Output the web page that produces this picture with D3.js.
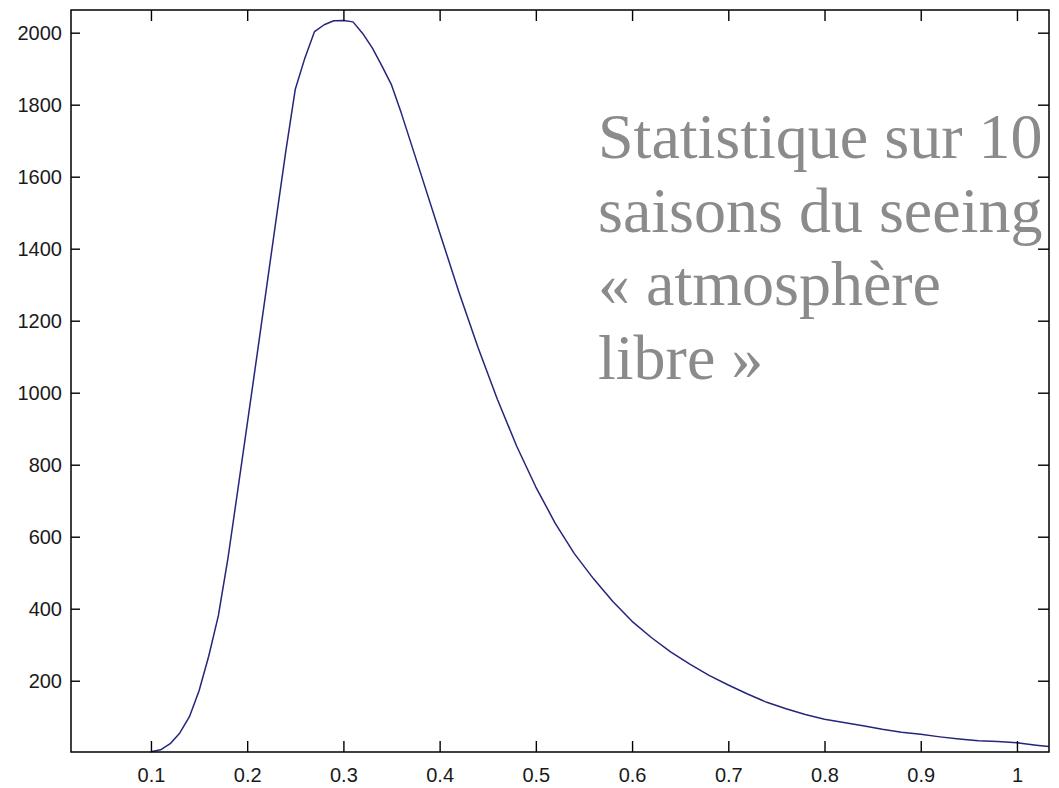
<!DOCTYPE html>
<html>
<head>
<meta charset="utf-8">
<script src="https://cdn.jsdelivr.net/npm/d3@7/dist/d3.min.js"></script>
<style>
  html, body { margin: 0; padding: 0; background: #fff; }
  svg { display: block; }
</style>
</head>
<body>
<svg id="chart" width="1059" height="788"></svg>
<script>
// Seeing (arcsec) and number of occurrences
const seeing = [
  0.10, 0.11, 0.12, 0.13, 0.14, 0.15, 0.16, 0.17, 0.18, 0.19,
  0.20, 0.21, 0.22, 0.23, 0.24, 0.25, 0.26, 0.27, 0.28, 0.29,
  0.30, 0.31, 0.32, 0.33, 0.34, 0.35, 0.36, 0.38, 0.40, 0.42,
  0.44, 0.46, 0.48, 0.50, 0.52, 0.54, 0.56, 0.58, 0.60, 0.62,
  0.64, 0.66, 0.68, 0.70, 0.72, 0.74, 0.76, 0.78, 0.80, 0.82,
  0.84, 0.86, 0.88, 0.90, 0.92, 0.94, 0.96, 0.98, 1.00, 1.02,
  1.033
];
const counts = [
  3, 8, 25, 55, 100, 172, 268, 380, 540, 725,
  912, 1100, 1290, 1480, 1668, 1843, 1930, 2003, 2022, 2033,
  2034, 2030, 1998, 1958, 1908, 1855, 1778, 1612, 1445, 1280,
  1125, 982, 852, 738, 638, 553, 483, 420, 365, 320,
  280, 246, 215, 188, 163, 140, 122, 106, 93, 84,
  75, 65, 57, 51, 44, 38, 33, 31, 28, 21,
  17
];
const xTicks = [0.1, 0.2, 0.3, 0.4, 0.5, 0.6, 0.7, 0.8, 0.9, 1];
const yTicks = [200, 400, 600, 800, 1000, 1200, 1400, 1600, 1800, 2000];
const xDomain = [0.0169, 1.0333];
const yDomain = [2, 2063];
const noteLines = ["Statistique sur 10", "saisons du seeing", "« atmosphère", "libre »"];

const svg = d3.select("#chart");
const plot = { left: 71, right: 1049, top: 10, bottom: 752 };

const x = d3.scaleLinear().domain(xDomain).range([plot.left, plot.right]);
const y = d3.scaleLinear().domain(yDomain).range([plot.bottom, plot.top]);

svg.append("rect").attr("width", 1059).attr("height", 788).attr("fill", "#fff");

// Distribution curve
svg.append("path")
  .datum(seeing.map((s, i) => [s, counts[i]]))
  .attr("fill", "none")
  .attr("stroke", "#25257a")
  .attr("stroke-width", 1.5)
  .attr("stroke-linejoin", "round")
  .attr("d", d3.line().x(d => x(d[0])).y(d => y(d[1])));

// Axes with inward ticks on all four sides
const fmtX = d => (d === 1 ? "1" : d3.format(".1f")(d));
const styleAxis = g => {
  g.select(".domain").remove();
  g.selectAll(".tick line").attr("stroke", "#000").attr("stroke-width", 1.4);
  g.selectAll(".tick text")
    .attr("fill", "#1a1a1a")
    .style("font-family", "'Liberation Sans', Arial, sans-serif")
    .style("font-size", "20px");
};

svg.append("g").attr("transform", `translate(0,${plot.bottom})`)
  .call(d3.axisBottom(x).tickValues(xTicks).tickFormat(fmtX).tickSize(-11).tickPadding(16))
  .call(styleAxis);
svg.append("g").attr("transform", `translate(0,${plot.top})`)
  .call(d3.axisTop(x).tickValues(xTicks).tickFormat("").tickSize(-11))
  .call(styleAxis);
svg.append("g").attr("transform", `translate(${plot.left},0)`)
  .call(d3.axisLeft(y).tickValues(yTicks).tickFormat(d3.format("d")).tickSize(-9).tickPadding(9))
  .call(styleAxis);
svg.append("g").attr("transform", `translate(${plot.right},0)`)
  .call(d3.axisRight(y).tickValues(yTicks).tickFormat("").tickSize(-11))
  .call(styleAxis);

// Axes box
svg.append("rect")
  .attr("x", plot.left).attr("y", plot.top)
  .attr("width", plot.right - plot.left).attr("height", plot.bottom - plot.top)
  .attr("fill", "none").attr("stroke", "#000").attr("stroke-width", 1.5);

// Annotation text
const note = svg.append("text")
  .attr("x", 598).attr("y", 158)
  .attr("fill", "#8b8b8b")
  .style("font-family", "'Liberation Serif', 'Times New Roman', serif")
  .style("font-size", "64px");
note.selectAll("tspan").data(noteLines).join("tspan")
  .attr("x", 598)
  .attr("y", (d, i) => 158 + i * 73.5)
  .text(d => d);
</script>
</body>
</html>
